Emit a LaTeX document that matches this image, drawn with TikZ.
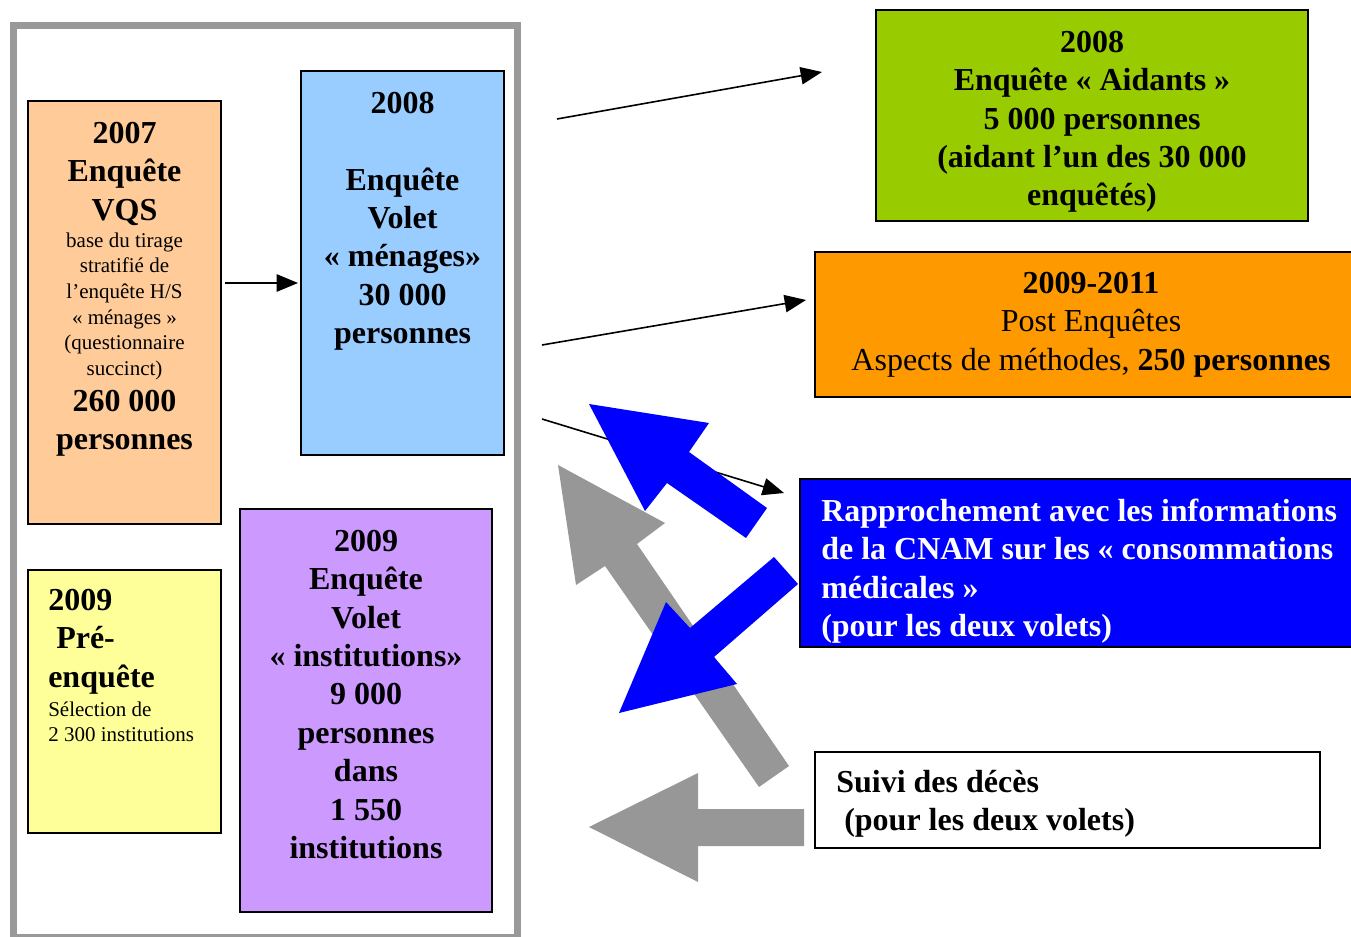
\documentclass[tikz,border=0pt]{standalone}
\usepackage{fontspec}
\setmainfont{Liberation Serif}
\usetikzlibrary{arrows.meta}
\definecolor{frameGray}{HTML}{999999}
\definecolor{arrowGray}{HTML}{979797}
\definecolor{peach}{HTML}{FFCC99}
\definecolor{skyBlue}{HTML}{99CCFF}
\definecolor{paleYellow}{HTML}{FFFF99}
\definecolor{lavender}{HTML}{CC99FF}
\definecolor{limeGreen}{HTML}{99CC00}
\definecolor{brightOrange}{HTML}{FF9900}
\definecolor{pureBlue}{HTML}{0000FF}
\newcommand\txtB{\fontsize{24}{28.8}\selectfont\bfseries}
\newcommand\txtR{\fontsize{24}{28.8}\selectfont}
\newcommand\txtS{\fontsize{15.75}{19.2}\selectfont}
\begin{document}
\begin{tikzpicture}[x=0.75pt,y=-0.75pt,
  box/.style={draw=black, line width=1.5pt, rectangle, inner sep=0pt},
  txt/.style={inner sep=0pt, align=center, anchor=north},
  ltxt/.style={inner sep=0pt, align=left, anchor=north west},
  conn/.style={line width=1.2pt, -{Triangle[length=16pt,width=13pt]}}]
\useasboundingbox (0,0) rectangle (1351,937);
\clip (0,0) rectangle (1351,937);

% container of the two survey strands
\draw[frameGray, line width=5.25pt] (13.5,25.5) rectangle (517.5,937.5);

% boxes
\node[box, fill=peach, minimum width=144.75pt, minimum height=317.25pt] (vqs) at (124.5,312.5) {};
\node[box, fill=skyBlue, minimum width=152.25pt, minimum height=288pt] (men) at (402.5,263) {};
\node[box, fill=paleYellow, minimum width=144.75pt, minimum height=197.25pt] (pre) at (124.5,701.5) {};
\node[box, fill=lavender, minimum width=189pt, minimum height=302.25pt] (inst) at (366,710.5) {};
\node[box, fill=limeGreen, minimum width=324pt, minimum height=158.25pt] (aid) at (1092,115.5) {};
\node[box, fill=brightOrange, minimum width=414pt, minimum height=108.75pt] (post) at (1091,324.5) {};
\node[box, fill=pureBlue, minimum width=435pt, minimum height=126pt] (cnam) at (1090,563) {};
\node[box, fill=white, minimum width=378.75pt, minimum height=72pt] (deces) at (1067.5,800) {};

% texts
\node[txt, font=\txtB] (vqsA) at (124.5,116.1) {\strut 2007\\Enquête\\VQS};
\node[txt, font=\txtS] (vqsB) at (124.5,229.1) {\strut base du tirage\\stratifié de\\l’enquête H/S\\« ménages »\\(questionnaire\\succinct)};
\node[txt, font=\txtB] (vqsC) at (124.5,384.1) {\strut 260 000\\personnes};
\node[txt, font=\txtB] (menT) at (402.5,86.1) {\strut 2008\\[28.8pt]Enquête\\Volet\\« ménages»\\30 000\\personnes};
\node[ltxt, font=\txtB] (preA) at (48,583.1) {\strut 2009\\\hspace*{0.25em}Pré-\\enquête};
\node[ltxt, font=\txtS] (preB) at (48,698.1) {\strut Sélection de\\2 300 institutions};
\node[txt, font=\txtB] (instT) at (366,524.1) {\strut 2009\\Enquête\\Volet\\« institutions»\\9 000\\personnes\\dans\\1 550\\institutions};
\node[txt, font=\txtB] (aidT) at (1092,25.1) {\strut 2008\\Enquête « Aidants »\\5 000 personnes\\(aidant l’un des 30 000\\enquêtés)};
\node[txt, font=\txtR] (postT) at (1091,266.1) {\strut\textbf{2009-2011}\\Post Enquêtes\\Aspects de méthodes, \textbf{250 personnes}};
\node[ltxt, font=\txtB, text=white] (cnamT) at (821,494.1) {\strut Rapprochement avec les informations\\de la CNAM sur les « consommations\\médicales »\\(pour les deux volets)};
\node[ltxt, font=\txtB] (decesT) at (836,765.1) {\strut Suivi des décès\\\hspace*{0.25em}(pour les deux volets)};

% connector end points
\coordinate (s0) at (225,283);
\coordinate (e0) at (298,283);
\coordinate (s1) at (557,119);
\coordinate (e1) at (822,72);
\coordinate (s2) at (542,345);
\coordinate (e2) at (806,300);
\coordinate (s3) at (542,419);
\coordinate (e3) at (784,493);

% thin connectors
\draw[conn] (s0) -- (e0);
\draw[conn] (s1) -- (e1);
\draw[conn] (s2) -- (e2);
\draw[conn] (s3) -- (e3);

% broad arrows
\fill[arrowGray] (558,465) -- (665,523) -- (637,544) -- (789,766) -- (759,787) -- (605,566) -- (576,585) -- cycle;
\fill[arrowGray] (589,827) -- (698,773) -- (698,809) -- (804,809) -- (804,846) -- (698,846) -- (698,882) -- cycle;
\fill[pureBlue] (589,404) -- (709,423) -- (689,452) -- (767,508) -- (746,538) -- (667,483) -- (645,511) -- cycle;
\fill[pureBlue] (619,713) -- (666,602) -- (690,628) -- (774,557) -- (798,584) -- (714,657) -- (737,684) -- cycle;
\end{tikzpicture}
\end{document}
